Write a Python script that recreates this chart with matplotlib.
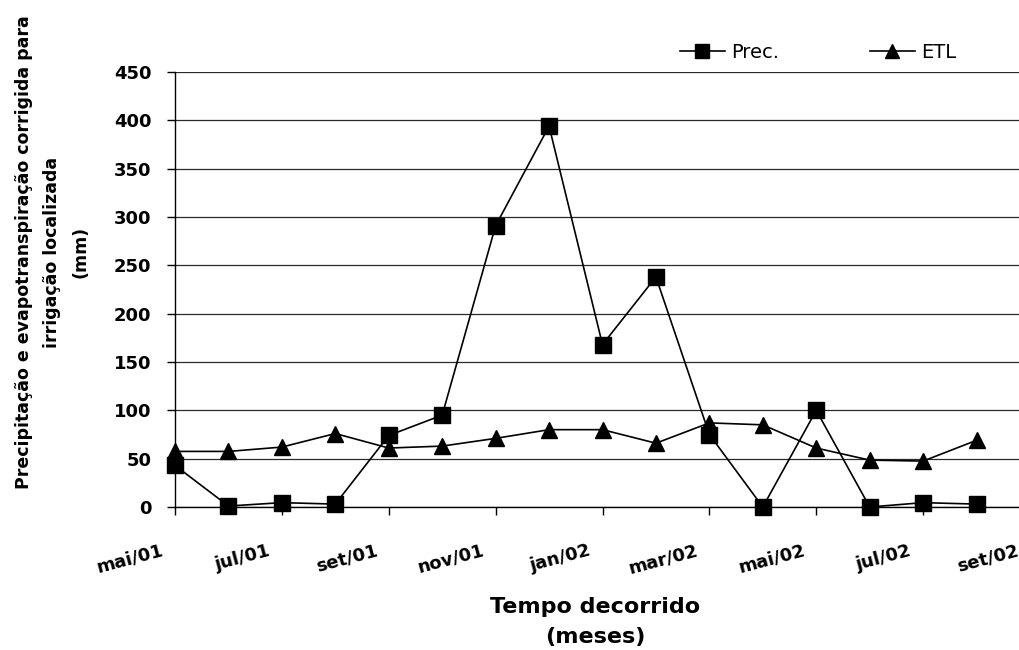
import matplotlib
matplotlib.use("Agg")
import matplotlib.pyplot as plt
import matplotlib.transforms as mtransforms

# monthly totals, mai/01 .. ago/02 (mm)
meses = ["mai/01", "jun/01", "jul/01", "ago/01", "set/01", "out/01", "nov/01", "dez/01",
         "jan/02", "fev/02", "mar/02", "abr/02", "mai/02", "jun/02", "jul/02", "ago/02", "set/02"]
prec = [43, 1, 4.5, 3, 74, 95, 291, 394, 168, 238, 75, 0, 100, 0, 4.5, 3]
etl = [57.5, 57.5, 62, 76, 61, 63, 71, 80, 80, 66, 87, 85, 61, 48.5, 47.5, 69]
y_ticks = [0, 50, 100, 150, 200, 250, 300, 350, 400, 450]

plt.rcParams["font.family"] = "DejaVu Sans"

fig = plt.figure(figsize=(10.19, 6.5), dpi=100)
# axes run a bit past the right edge, as in the original layout
ax = fig.add_axes([175 / 1019, 143 / 650, 855 / 1019, 435 / 650])

x = list(range(len(prec)))
ax.plot(x, prec, color="black", lw=1.2, marker="s", ms=11, mfc="black", mec="black",
        label="Prec.", zorder=3, clip_on=False)
ax.plot(x, etl, color="black", lw=1.2, marker="^", ms=11, mfc="black", mec="black",
        label="ETL", zorder=3, clip_on=False)

ax.set_xlim(0, len(meses) - 1)
ax.set_ylim(0, 450)
ax.set_yticks(y_ticks)
ax.set_yticklabels([str(v) for v in y_ticks], fontsize=13, fontweight="bold")
tick_pos = list(range(0, len(meses), 2))
ax.set_xticks(tick_pos)
ax.set_xticklabels([meses[i] for i in tick_pos], fontsize=13, fontweight="bold",
                   rotation=15, ha="right", rotation_mode="anchor")

ax.grid(axis="y", color="#2a2a2a", lw=0.9)
ax.set_axisbelow(True)
for side in ["top", "right"]:
    ax.spines[side].set_visible(False)
ax.spines["left"].set_linewidth(1.0)
ax.spines["bottom"].set_linewidth(1.0)
ax.tick_params(axis="y", direction="out", length=6, width=1, pad=11)
ax.tick_params(axis="x", direction="out", length=6, width=1, pad=19)

# nudge month labels left of their ticks
shift = mtransforms.ScaledTranslation(-0.14, 0, fig.dpi_scale_trans)
for lbl in ax.get_xticklabels():
    lbl.set_transform(lbl.get_transform() + shift)

fig.text(52 / 1019, 1 - 252 / 650,
         "Precipitação e evapotranspiração corrigida para\nirrigação localizada\n(mm)",
         rotation=90, ha="center", va="center", multialignment="center",
         fontsize=12.5, fontweight="bold", linespacing=1.72)
fig.text(595 / 1019, 1 - 622 / 650, "Tempo decorrido\n(meses)",
         ha="center", va="center", multialignment="center",
         fontsize=16, fontweight="bold", linespacing=1.6)

ax.legend(loc="center left", bbox_to_anchor=(680 / 1019, 1 - 52 / 650),
          bbox_transform=fig.transFigure, ncol=2, frameon=False, fontsize=14,
          handlelength=2.3, handletextpad=0.35, columnspacing=4.65,
          borderaxespad=0, borderpad=0, markerscale=0.9)

fig.savefig("out.png", dpi=100)
